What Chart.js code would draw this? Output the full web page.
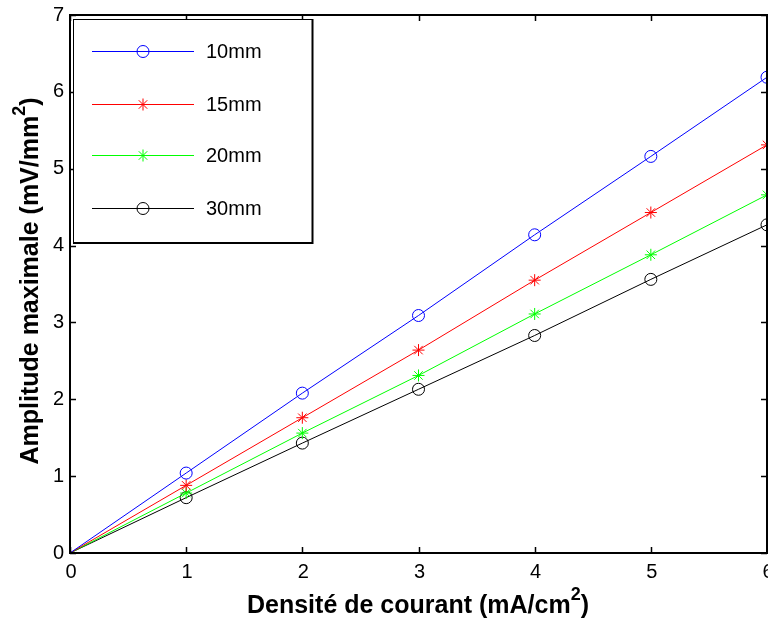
<!DOCTYPE html>
<html>
<head>
<meta charset="utf-8">
<script src="https://cdn.jsdelivr.net/npm/chart.js@4"></script>
<style>
  html, body { margin: 0; padding: 0; background: #fff; }
  #wrap { width: 768px; height: 626px; }
</style>
</head>
<body>
<div id="wrap"><canvas id="chart" width="768" height="626"></canvas></div>
<script>
const xValues = [0, 1, 2, 3, 4, 5, 6];
const seriesLabels = ["10mm", "15mm", "20mm", "30mm"];
const amp10 = [0, 1.04, 2.08, 3.09, 4.14, 5.16, 6.19];
const amp15 = [0, 0.88, 1.76, 2.64, 3.55, 4.43, 5.31];
const amp20 = [0, 0.78, 1.56, 2.31, 3.11, 3.88, 4.66];
const amp30 = [0, 0.72, 1.43, 2.13, 2.83, 3.56, 4.27];
const xTickValues = [0, 1, 2, 3, 4, 5, 6];
const yTickValues = [0, 1, 2, 3, 4, 5, 6, 7];

const STYLES = [
  { color: "#0000ff", marker: "circle" },
  { color: "#ff0000", marker: "star" },
  { color: "#00ff00", marker: "star" },
  { color: "#000000", marker: "circle" },
];

const FONT = '"Liberation Sans", Arial, Helvetica, sans-serif';

function makeDataset(label, values, style) {
  return {
    label,
    data: values.map((v, i) => ({ x: xValues[i], y: v })),
    borderColor: style.color,
    backgroundColor: "transparent",
    borderWidth: 1,
    tension: 0,
    pointStyle: style.marker,
    pointRadius: (c) => (c.dataIndex === 0 ? 0 : 6),
    pointBorderColor: style.color,
    pointBackgroundColor: "transparent",
    pointBorderWidth: 1,
    clip: false,
  };
}

// centred bold text where some parts are raised superscripts
function drawSupText(ctx, parts, x, y, size) {
  const supSize = Math.round(size * 0.7);
  let total = 0;
  for (const p of parts) {
    ctx.font = `bold ${p.sup ? supSize : size}px ${FONT}`;
    total += ctx.measureText(p.t).width;
  }
  let cx = x - total / 2;
  ctx.textAlign = "left";
  ctx.textBaseline = "middle";
  for (const p of parts) {
    ctx.font = `bold ${p.sup ? supSize : size}px ${FONT}`;
    ctx.fillText(p.t, cx, p.sup ? y - size * 0.42 : y);
    cx += ctx.measureText(p.t).width;
  }
}

const framePlugin = {
  id: "frame",
  afterDraw(chart) {
    const { ctx, chartArea: a, scales } = chart;
    const xs = scales.x, ys = scales.y;
    ctx.save();
    ctx.strokeStyle = "#000";
    ctx.fillStyle = "#000";

    // inward ticks on all four sides
    ctx.lineWidth = 1.5;
    ctx.beginPath();
    for (const v of xTickValues) {
      const px = Math.round(xs.getPixelForValue(v)) + 0.5;
      ctx.moveTo(px, a.bottom); ctx.lineTo(px, a.bottom - 6);
      ctx.moveTo(px, a.top); ctx.lineTo(px, a.top + 6);
    }
    for (const v of yTickValues) {
      const py = Math.round(ys.getPixelForValue(v)) + 0.5;
      ctx.moveTo(a.left, py); ctx.lineTo(a.left + 6, py);
      ctx.moveTo(a.right, py); ctx.lineTo(a.right - 6, py);
    }
    ctx.stroke();

    // axes box
    ctx.lineWidth = 2;
    ctx.strokeRect(a.left, a.top, a.right - a.left, a.bottom - a.top);

    // tick labels
    ctx.font = `20px ${FONT}`;
    ctx.textAlign = "center";
    ctx.textBaseline = "middle";
    for (const v of xTickValues) {
      ctx.fillText(String(v), xs.getPixelForValue(v) + 1, a.bottom + 19);
    }
    ctx.textAlign = "right";
    for (const v of yTickValues) {
      ctx.fillText(String(v), a.left - 6, ys.getPixelForValue(v));
    }

    // axis titles
    drawSupText(ctx, [{ t: "Densité de courant (mA/cm" }, { t: "2", sup: true }, { t: ")" }],
      418, 606, 25);
    ctx.save();
    ctx.translate(31, 281);
    ctx.rotate(-Math.PI / 2);
    drawSupText(ctx, [{ t: "Amplitude maximale (mV/mm" }, { t: "2", sup: true }, { t: ")" }], 0, 0, 25);
    ctx.restore();

    // legend box
    const lx = 73, ly = 19, lw = 239, lh = 223;
    ctx.fillStyle = "#fff";
    ctx.fillRect(lx, ly, lw, lh);
    ctx.lineWidth = 1;
    ctx.strokeStyle = "#000";
    ctx.strokeRect(lx + 0.5, ly + 0.5, lw, lh);
    ctx.lineWidth = 2;
    ctx.beginPath();
    ctx.moveTo(lx + lw + 0.5, ly); ctx.lineTo(lx + lw + 0.5, ly + lh + 1);
    ctx.lineTo(lx, ly + lh + 1);
    ctx.stroke();

    const rows = [51, 104, 155, 208];
    chart.data.datasets.forEach((ds, i) => {
      const y = rows[i] + 0.5;
      ctx.strokeStyle = ds.borderColor;
      ctx.fillStyle = "rgba(0,0,0,0)";
      ctx.lineWidth = 1;
      ctx.beginPath();
      ctx.moveTo(92, y); ctx.lineTo(194, y);
      ctx.stroke();
      Chart.helpers.drawPoint(ctx, {
        pointStyle: ds.pointStyle, radius: 6, borderWidth: 1, rotation: 0,
      }, 143, y);
      ctx.fillStyle = "#000";
      ctx.font = `20px ${FONT}`;
      ctx.textAlign = "left";
      ctx.textBaseline = "middle";
      ctx.fillText(ds.label, 206, y + 1);
    });
    ctx.restore();
  },
};

new Chart(document.getElementById("chart"), {
  type: "line",
  data: {
    datasets: [
      makeDataset(seriesLabels[0], amp10, STYLES[0]),
      makeDataset(seriesLabels[1], amp15, STYLES[1]),
      makeDataset(seriesLabels[2], amp20, STYLES[2]),
      makeDataset(seriesLabels[3], amp30, STYLES[3]),
    ],
  },
  options: {
    responsive: false,
    animation: false,
    layout: { autoPadding: false, padding: { top: 15, right: 1, left: 0, bottom: 0 } },
    plugins: { legend: { display: false }, tooltip: { enabled: false } },
    scales: {
      x: {
        type: "linear", min: 0, max: 6,
        ticks: { display: false, stepSize: 1 },
        grid: { display: false }, border: { display: false },
        afterFit: (s) => { s.height = 73; s.paddingLeft = 0; s.paddingRight = 0; },
      },
      y: {
        type: "linear", min: 0, max: 7,
        ticks: { display: false, stepSize: 1 },
        grid: { display: false }, border: { display: false },
        afterFit: (s) => { s.width = 70; s.paddingTop = 0; s.paddingBottom = 0; },
      },
    },
  },
  plugins: [framePlugin],
});
</script>
</body>
</html>
